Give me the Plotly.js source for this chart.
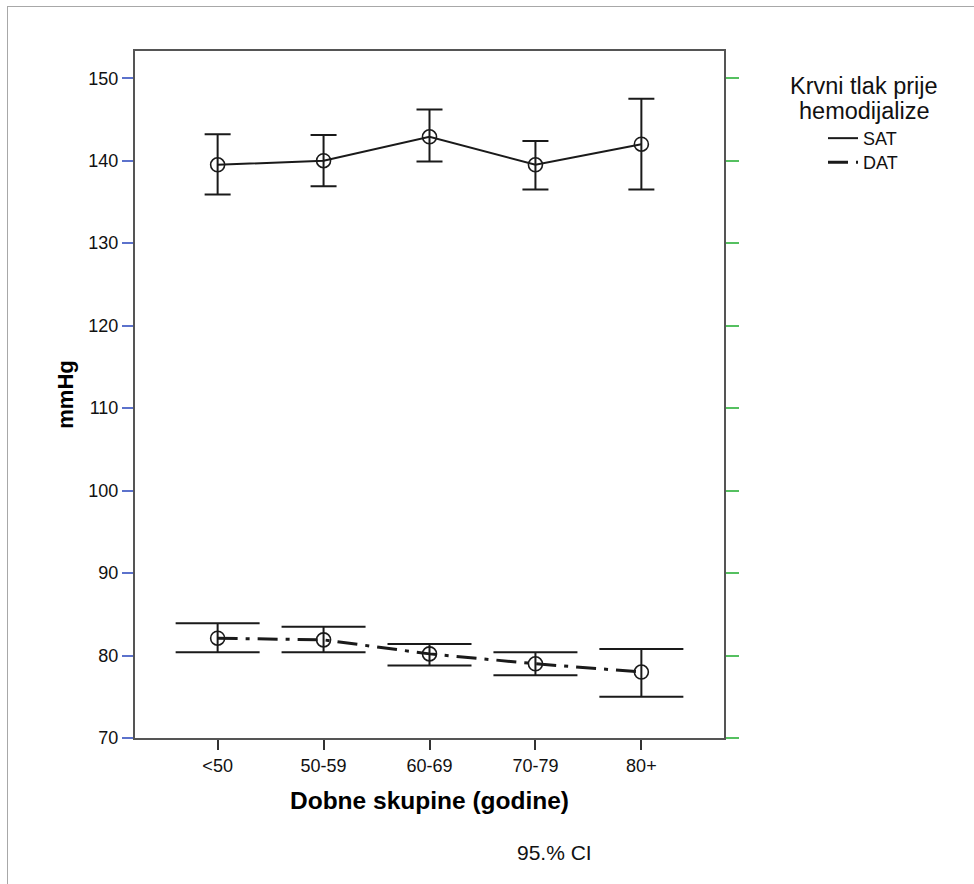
<!DOCTYPE html>
<html>
<head>
<meta charset="utf-8">
<script src="https://cdn.plot.ly/plotly-3.0.1.min.js"></script>
<style>
  html, body { margin: 0; padding: 0; background: #fff; }
  #wrap { position: relative; width: 974px; height: 884px; overflow: hidden; }
  #chart { position: absolute; left: 0; top: 0; width: 974px; height: 884px; }
  #frame { position: absolute; left: 7px; top: 6px; width: 1000px; height: 1000px;
           border-left: 1.5px solid #a8a8a8; border-top: 1.5px solid #a8a8a8; pointer-events: none; }
</style>
</head>
<body>
<div id="wrap">
  <div id="chart"></div>
  <div id="frame"></div>
</div>
<script>
// ---- data ----
const categories = ["<50", "50-59", "60-69", "70-79", "80+"];
const satMean  = [139.5, 140.0, 142.9, 139.5, 142.0];
const satLower = [135.9, 136.9, 139.9, 136.5, 136.5];
const satUpper = [143.2, 143.1, 146.2, 142.4, 147.5];
const datMean  = [82.1, 81.9, 80.2, 79.0, 78.0];
const datLower = [80.4, 80.4, 78.8, 77.6, 75.0];
const datUpper = [83.9, 83.5, 81.4, 80.4, 80.8];
const seriesNames = ["SAT", "DAT"];
const legendTitle1 = "Krvni tlak prije";
const legendTitle2 = "hemodijalize";
const xTitle = "Dobne skupine (godine)";
const yTitle = "mmHg";
const ciNote = "95.% CI";

// ---- layout geometry ----
const W = 974, H = 884;
const L = 135, R = 724, T = 51, B = 738.5;
const pw = R - L, ph = B - T;
const px = x => (x - L) / pw;
const py = y => 1 - (y - T) / ph;

const FONT = "Liberation Sans, Arial, sans-serif";
const ink = "#1a1a1a";
const idx = categories.map((c, i) => i);

function diff(a, b) { return a.map((v, i) => +(v - b[i]).toFixed(3)); }

const traces = [
  { x: idx, y: satMean, mode: "lines", name: seriesNames[0], showlegend: true, legend: "legend",
    line: { color: ink, width: 2 }, hoverinfo: "skip" },
  { x: idx, y: datMean, mode: "lines", name: seriesNames[1], showlegend: true, legend: "legend2",
    line: { color: ink, width: 3, dash: "20px,8px,4px,8px" }, hoverinfo: "skip" },
  { x: idx, y: satMean, mode: "markers", showlegend: false,
    marker: { symbol: "circle-open", size: 14, color: ink, line: { width: 1.6, color: ink } },
    error_y: { type: "data", symmetric: false, array: diff(satUpper, satMean), arrayminus: diff(satMean, satLower),
               color: ink, thickness: 2, width: 13 } },
  { x: idx, y: datMean, mode: "markers", showlegend: false,
    marker: { symbol: "circle-open", size: 14, color: ink, line: { width: 1.6, color: ink } },
    error_y: { type: "data", symmetric: false, array: diff(datUpper, datMean), arrayminus: diff(datMean, datLower),
               color: ink, thickness: 2, width: 42 } },
  // invisible companion so the right-hand axis is drawn
  { x: idx, y: satMean, yaxis: "y2", mode: "markers", showlegend: false, hoverinfo: "skip",
    marker: { opacity: 0 } }
];

const yRange = [70, 153.3];
const legendFont = { size: 18, family: FONT, color: "#111" };

const layout = {
  width: W, height: H,
  margin: { l: L, r: W - R, t: T, b: H - B, pad: 0 },
  paper_bgcolor: "rgba(0,0,0,0)", plot_bgcolor: "#fff",
  font: { family: FONT, color: "#111" },
  showlegend: true,
  xaxis: {
    range: [-0.78, 4.78], tickmode: "array", tickvals: idx, ticktext: categories,
    showgrid: false, zeroline: false,
    showline: true, linecolor: "#555", linewidth: 2, mirror: true,
    ticks: "outside", ticklen: 10, tickwidth: 2, tickcolor: "#333",
    tickfont: { size: 18, family: FONT, color: "#111" },
    title: { text: xTitle, font: { size: 24.5, family: FONT, color: "#000", weight: "bold" }, standoff: 17 },
    fixedrange: true
  },
  yaxis: {
    range: yRange, tickmode: "linear", tick0: 70, dtick: 10,
    showgrid: false, zeroline: false,
    showline: true, linecolor: "#555", linewidth: 2,
    ticks: "outside", ticklen: 11, tickwidth: 2, tickcolor: "#5c72cc",
    tickfont: { size: 18, family: FONT, color: "#111" },
    title: { text: yTitle, font: { size: 22, family: FONT, color: "#000", weight: "bold" }, standoff: 9 },
    fixedrange: true
  },
  yaxis2: {
    range: yRange, overlaying: "y", side: "right", tickmode: "linear", tick0: 70, dtick: 10,
    showgrid: false, zeroline: false, showticklabels: false,
    showline: true, linecolor: "#555", linewidth: 2,
    ticks: "outside", ticklen: 13, tickwidth: 2, tickcolor: "#55c060",
    fixedrange: true
  },
  legend: {
    x: px(823), y: py(120), xanchor: "left", yanchor: "top",
    bgcolor: "rgba(0,0,0,0)", borderwidth: 0, font: legendFont, itemwidth: 30
  },
  legend2: {
    x: px(823), y: py(144), xanchor: "left", yanchor: "top",
    bgcolor: "rgba(0,0,0,0)", borderwidth: 0, font: legendFont, itemwidth: 30
  },
  annotations: [
    { text: legendTitle1, xref: "paper", yref: "paper", x: px(863.5), y: py(86),
      xanchor: "center", yanchor: "middle", showarrow: false,
      font: { size: 23.5, family: FONT, color: "#111" } },
    { text: legendTitle2, xref: "paper", yref: "paper", x: px(864.5), y: py(111),
      xanchor: "center", yanchor: "middle", showarrow: false,
      font: { size: 23.5, family: FONT, color: "#111" } },
    { text: ciNote, xref: "paper", yref: "paper", x: px(554), y: py(853),
      xanchor: "center", yanchor: "middle", showarrow: false,
      font: { size: 21, family: FONT, color: "#111" } }
  ]
};

Plotly.newPlot("chart", traces, layout, { staticPlot: true, displayModeBar: false });
</script>
</body>
</html>
